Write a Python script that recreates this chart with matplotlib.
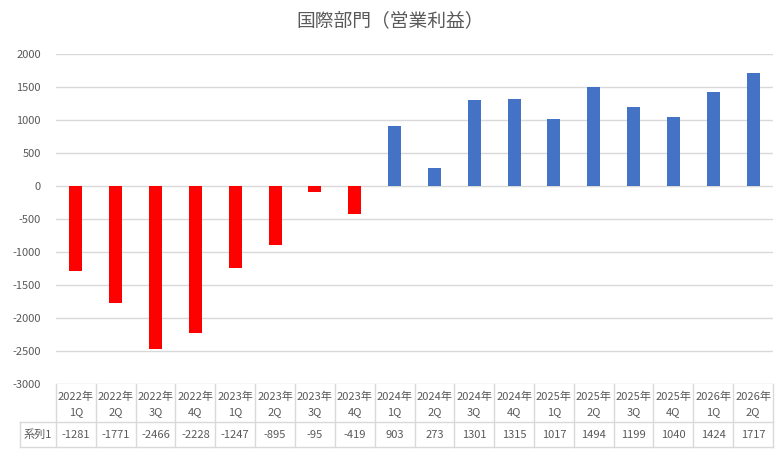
import matplotlib
matplotlib.use("Agg")
import matplotlib.pyplot as plt
from matplotlib.transforms import blended_transform_factory

plt.rcParams['font.family'] = ['Noto Sans CJK JP', 'DejaVu Sans']

title = "国際部門（営業利益）"
series_name = "系列1"
years = ["2022年"] * 4 + ["2023年"] * 4 + ["2024年"] * 4 + ["2025年"] * 4 + ["2026年"] * 2
quarters = ["1Q", "2Q", "3Q", "4Q"] * 4 + ["1Q", "2Q"]
values = [-1281, -1771, -2466, -2228, -1247, -895, -95, -419,
          903, 273, 1301, 1315, 1017, 1494, 1199, 1040, 1424, 1717]
yticks = [2000, 1500, 1000, 500, 0, -500, -1000, -1500, -2000, -2500, -3000]

W, H = 781, 454
fig = plt.figure(figsize=(W / 100, H / 100), dpi=100)
L, R, T, B = 56, 773, 54, 384
ax = fig.add_axes([L / W, (H - B) / H, (R - L) / W, (B - T) / H])

text_color = "#595959"
grid_color = "#D9D9D9"
red = "#FF0000"
blue = "#4472C4"

n = len(values)
xs = list(range(n))
colors = [red if v < 0 else blue for v in values]
ax.bar(xs, values, width=0.33, color=colors, zorder=3)

ax.set_xlim(-0.5, n - 0.5)
ax.set_ylim(-3000, 2000)
ax.set_yticks(yticks)
ax.set_yticklabels([str(t) for t in yticks], color=text_color, fontsize=8)
ax.tick_params(axis='y', length=0, pad=11)
ax.set_xticks([])
for s in ax.spines.values():
    s.set_visible(False)
ax.grid(axis='y', color=grid_color, linewidth=1, zorder=0)
ax.set_axisbelow(True)

# Data table below the plot area
trans = blended_transform_factory(ax.transData, ax.transAxes)
ph = B - T
col_px = (R - L) / n
y_hdr = -38 / ph
y_bot = -63 / ph
x_lab = -0.5 - (L - 20) / col_px
lk = dict(color=grid_color, linewidth=1, transform=trans, clip_on=False)
for i in range(n + 1):
    ax.plot([i - 0.5, i - 0.5], [0, y_bot], **lk)
ax.plot([x_lab, n - 0.5], [y_hdr, y_hdr], **lk)
ax.plot([x_lab, n - 0.5], [y_bot, y_bot], **lk)
ax.plot([x_lab, x_lab], [y_hdr, y_bot], **lk)

for i in range(n):
    ax.text(i, -13 / ph, years[i], transform=trans, ha='center', va='center',
            fontsize=8, color=text_color)
    ax.text(i, -28 / ph, quarters[i], transform=trans, ha='center', va='center',
            fontsize=8, color=text_color)
    ax.text(i, -51 / ph, str(values[i]), transform=trans, ha='center', va='center',
            fontsize=8, color=text_color)
ax.text((x_lab - 0.5) / 2, -51 / ph, series_name, transform=trans, ha='center',
        va='center', fontsize=8, color=text_color)

fig.text(390 / W, 1 - 21 / H, title, ha='center', va='center', fontsize=13.5,
         color=text_color)

fig.savefig("out.png", dpi=100)
